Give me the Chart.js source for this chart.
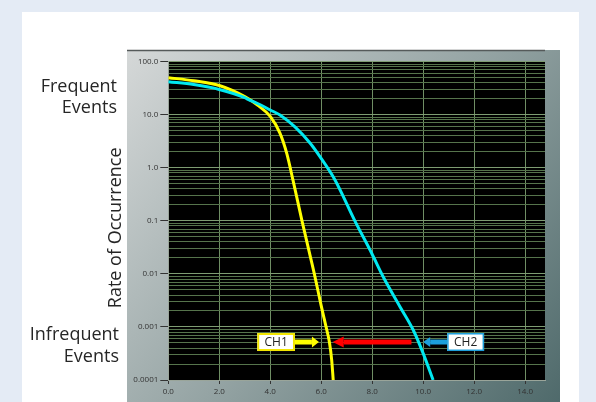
<!DOCTYPE html>
<html>
<head>
<meta charset="utf-8">
<script src="https://cdn.jsdelivr.net/npm/chart.js@4/dist/chart.umd.min.js"></script>
<style>
  html, body { margin: 0; padding: 0; background: #e4ebf5; }
  #c { display: block; }
</style>
</head>
<body>
<canvas id="c" width="596" height="402"></canvas>
<script>
// ---- data ----
const ch1X = [0, 1, 2, 3, 3.5, 4.0, 4.38, 4.65, 4.89, 5.25, 5.6, 5.73, 6.0, 6.19, 6.32, 6.41, 6.47];
const ch1Y = [50, 43.8, 35.6, 21.9, 15.2, 9.3, 4.5, 1.85, 0.59, 0.098, 0.0186, 0.01, 0.0025, 0.001, 0.00052, 0.00024, 0.0001];
const ch2X = [0, 1, 2, 3, 3.13, 3.5, 4, 4.38, 4.97, 5.56, 5.95, 6.54, 7.32, 7.98, 8.43, 9.09, 9.61, 10.0, 10.39];
const ch2Y = [42, 37, 30, 21, 19.5, 16.3, 12.3, 9.9, 5.9, 2.93, 1.62, 0.59, 0.1, 0.0245, 0.00885, 0.00241, 0.000875, 0.000318, 0.0001];

const xTicks = [0, 2, 4, 6, 8, 10, 12, 14];
const yDecades = [0.0001, 0.001, 0.01, 0.1, 1, 10, 100];
const yTickLabels = ['0.0001', '0.001', '0.01', '0.1', '1.0', '10.0', '100.0'];

const seriesNames = ['CH1', 'CH2'];
const axisTitle = 'Rate of Occurrence';
const topNote = ['Frequent', 'Events'];
const bottomNote = ['Infrequent', 'Events'];

// annotation anchors (data units)
const annLevel = 0.00052;
const ch1BoxX = [3.49, 4.97];
const ch1ArrowX = [4.97, 5.91];
const shiftArrowX = [9.54, 6.45];
const ch2ArrowX = [10.94, 10.0];
const ch2BoxX = [10.94, 12.39];

// ---- derived ----
const yTickValues = [];
for (let i = 0; i < yDecades.length - 1; i++) {
  for (let m = 1; m <= 9; m++) yTickValues.push(yDecades[i] * m);
}
yTickValues.push(yDecades[yDecades.length - 1]);

function decadeIndex(v) {
  for (let i = 0; i < yDecades.length; i++) {
    if (Math.abs(Math.log10(v) - Math.log10(yDecades[i])) < 1e-6) return i;
  }
  return -1;
}

const FONT = '"Open Sans", "Noto Sans", sans-serif';

const bgPlugin = {
  id: 'bg',
  beforeDraw(chart) {
    const ctx = chart.ctx;
    const W = chart.width, H = chart.height;
    ctx.save();
    ctx.fillStyle = '#e4ebf5';
    ctx.fillRect(0, 0, W, H);
    ctx.fillStyle = '#ffffff';
    ctx.fillRect(22, 12, 557, H - 12);
    // gray panel
    const g = ctx.createLinearGradient(127, 50, 560, 402);
    g.addColorStop(0, '#d5d8d8');
    g.addColorStop(0.5, '#95a4a4');
    g.addColorStop(1, '#4f6a6b');
    ctx.fillStyle = g;
    ctx.fillRect(127, 50, 433, H - 50);
    ctx.strokeStyle = '#555a5a';
    ctx.lineWidth = 1.5;
    ctx.beginPath();
    ctx.moveTo(127, 50.5);
    ctx.lineTo(545, 50.5);
    ctx.stroke();
    const a = chart.chartArea;
    ctx.fillStyle = '#000000';
    ctx.fillRect(a.left, a.top, a.right - a.left, a.bottom - a.top);
    ctx.restore();
  },
  afterDraw(chart) {
    const ctx = chart.ctx;
    ctx.save();
    ctx.fillStyle = '#262626';
    ctx.font = '18px ' + FONT;
    ctx.textAlign = 'right';
    ctx.textBaseline = 'alphabetic';
    ctx.fillText(topNote[0], 117, 92);
    ctx.fillText(topNote[1], 117, 113);
    ctx.fillText(bottomNote[0], 119, 340);
    ctx.fillText(bottomNote[1], 119, 362);
    const ys = chart.scales.y;
    const yc = (ys.top + ys.bottom) / 2 + 7;
    ctx.translate(121, yc);
    ctx.rotate(-Math.PI / 2);
    ctx.textAlign = 'center';
    ctx.fillText(axisTitle, 0, 0);
    ctx.restore();
  },
  afterDatasetsDraw(chart) {
    const ctx = chart.ctx;
    const xs = chart.scales.x, ys = chart.scales.y;
    const py = ys.getPixelForValue(annLevel);
    const px = v => xs.getPixelForValue(v);

    function arrow(xTail, xTip, color, shaft, headH, headL) {
      const t = px(xTail), p = px(xTip);
      const dir = p > t ? 1 : -1;
      const base = p - dir * headL;
      ctx.fillStyle = color;
      ctx.fillRect(Math.min(t, base), py - shaft / 2, Math.abs(base - t), shaft);
      ctx.beginPath();
      ctx.moveTo(p, py);
      ctx.lineTo(base, py - headH / 2);
      ctx.lineTo(base, py + headH / 2);
      ctx.closePath();
      ctx.fill();
    }
    function box(xr, color, lw, text) {
      const l = px(xr[0]), r = px(xr[1]);
      const h = 18;
      ctx.fillStyle = '#ffffff';
      ctx.fillRect(l, py - h / 2, r - l, h);
      ctx.strokeStyle = color;
      ctx.lineWidth = lw;
      ctx.strokeRect(l + lw / 2, py - h / 2 + lw / 2, r - l - lw, h - lw);
      ctx.fillStyle = '#222222';
      ctx.font = '12px ' + FONT;
      ctx.textAlign = 'center';
      ctx.textBaseline = 'middle';
      ctx.fillText(text, (l + r) / 2, py + 0.5);
    }
    ctx.save();
    arrow(ch1ArrowX[0], ch1ArrowX[1], '#ffff00', 5, 11, 7);
    arrow(shiftArrowX[0], shiftArrowX[1], '#ff0000', 5, 11, 11);
    arrow(ch2ArrowX[0], ch2ArrowX[1], '#1c9fdc', 5, 10, 7);
    box(ch1BoxX, '#f2e600', 2, seriesNames[0]);
    box(ch2BoxX, '#1c9fdc', 1.5, seriesNames[1]);
    ctx.restore();
  }
};

const ch1Data = ch1X.map((x, i) => ({ x, y: ch1Y[i] }));
const ch2Data = ch2X.map((x, i) => ({ x, y: ch2Y[i] }));

new Chart(document.getElementById('c'), {
  type: 'line',
  data: {
    datasets: [
      { label: seriesNames[1], data: ch2Data, borderColor: '#00e8f0', borderWidth: 3,
        pointRadius: 0, fill: false, cubicInterpolationMode: 'monotone' },
      { label: seriesNames[0], data: ch1Data, borderColor: '#ffff00', borderWidth: 3,
        pointRadius: 0, fill: false, cubicInterpolationMode: 'monotone' }
    ]
  },
  options: {
    responsive: false,
    devicePixelRatio: 1,
    animation: false,
    layout: { padding: { top: 61.7, right: 51, left: 0, bottom: 0 } },
    plugins: { legend: { display: false }, tooltip: { enabled: false } },
    scales: {
      x: {
        type: 'linear',
        min: 0,
        max: 14.78,
        afterBuildTicks: s => { s.ticks = xTicks.map(v => ({ value: v })); },
        afterFit: s => { s.height = 22; },
        grid: { color: '#6f8e64', lineWidth: 1, tickLength: 4, tickColor: '#333333', drawOnChartArea: true },
        border: { color: '#9aa59a', width: 1 },
        ticks: {
          autoSkip: false, maxRotation: 0, padding: 3, color: '#333333',
          font: { family: FONT, size: 8 },
          callback: v => Number(v).toFixed(1)
        }
      },
      y: {
        type: 'logarithmic',
        min: yDecades[0],
        max: yDecades[yDecades.length - 1],
        afterBuildTicks: s => { s.ticks = yTickValues.map(v => ({ value: v, major: decadeIndex(v) >= 0 })); },
        afterFit: s => { s.width = 168.3; },
        grid: {
          color: ctx => (ctx.tick && decadeIndex(ctx.tick.value) >= 0) ? '#7e9c72' : '#56744c',
          lineWidth: 1,
          tickLength: 8,
          tickColor: ctx => (ctx.tick && decadeIndex(ctx.tick.value) >= 0) ? '#333333' : 'rgba(0,0,0,0)'
        },
        border: { color: '#9aa59a', width: 1 },
        ticks: {
          autoSkip: false, padding: 2, color: '#333333',
          font: { family: FONT, size: 8 },
          major: { enabled: false },
          callback: v => { const i = decadeIndex(v); return i >= 0 ? yTickLabels[i] : ''; }
        }
      }
    }
  },
  plugins: [bgPlugin]
});
</script>
</body>
</html>
